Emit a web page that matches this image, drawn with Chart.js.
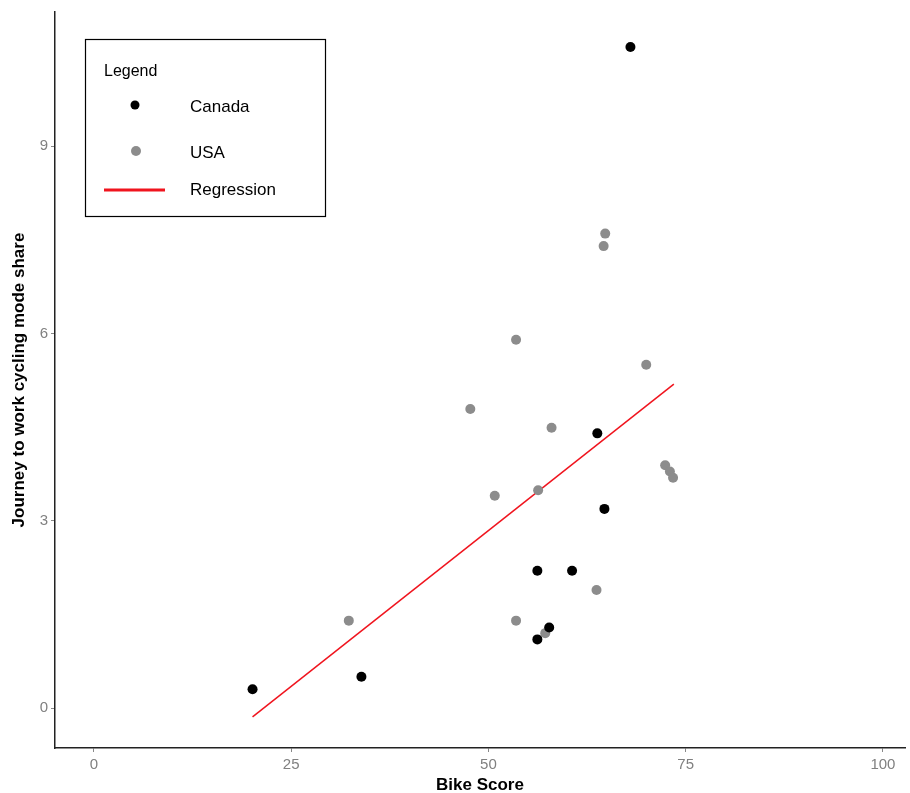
<!DOCTYPE html>
<html>
<head>
<meta charset="utf-8">
<script src="https://cdn.jsdelivr.net/npm/chart.js@4"></script>
<style>
html,body{margin:0;padding:0;background:#fff;}
#wrap{position:relative;width:910px;height:793px;}
</style>
</head>
<body>
<div id="wrap"><canvas id="c" width="910" height="793"></canvas></div>
<script>
// Data
const canadaX = [20.1, 33.9, 56.2, 57.7, 56.2, 60.6, 64.7, 63.8, 68.0];
const canadaY = [0.30, 0.50, 1.10, 1.29, 2.20, 2.20, 3.19, 4.40, 10.59];
const usaX = [32.3, 53.5, 57.2, 63.7, 56.3, 50.8, 47.7, 58.0, 53.5, 70.0, 64.6, 64.8, 72.4, 73.0, 73.4];
const usaY = [1.40, 1.40, 1.20, 1.89, 3.49, 3.40, 4.79, 4.49, 5.90, 5.50, 7.40, 7.60, 3.89, 3.79, 3.69];
const regX = [20.1, 73.5];
const regY = [-0.14, 5.19];
const xTicks = [0, 25, 50, 75, 100];
const yTicks = [0, 3, 6, 9];
const legendItems = ['Canada', 'USA', 'Regression'];

const toPts = (xs, ys) => xs.map((x, i) => ({x: x, y: ys[i]}));

const legendPlugin = {
  id: 'customLegend',
  afterDraw(chart) {
    const ctx = chart.ctx;
    ctx.save();
    ctx.strokeStyle = '#000';
    ctx.lineWidth = 1.2;
    ctx.fillStyle = '#fff';
    ctx.fillRect(85, 39, 240, 177);
    ctx.strokeRect(85.5, 39.5, 240, 177);
    ctx.fillStyle = '#000';
    ctx.font = '16px "Liberation Sans", Arial, sans-serif';
    ctx.textBaseline = 'middle';
    ctx.textAlign = 'left';
    ctx.fillText('Legend', 104, 72);
    // Canada
    ctx.beginPath(); ctx.arc(135, 105, 4.5, 0, Math.PI * 2); ctx.fillStyle = '#000'; ctx.fill();
    // USA
    ctx.beginPath(); ctx.arc(136, 151, 5, 0, Math.PI * 2); ctx.fillStyle = '#8c8c8c'; ctx.fill();
    // Regression
    ctx.strokeStyle = '#f0141e'; ctx.lineWidth = 3;
    ctx.beginPath(); ctx.moveTo(104, 190); ctx.lineTo(165, 190); ctx.stroke();
    ctx.fillStyle = '#000';
    ctx.font = '17px "Liberation Sans", Arial, sans-serif';
    ctx.fillText(legendItems[0], 190, 107);
    ctx.fillText(legendItems[1], 190, 153);
    ctx.fillText(legendItems[2], 190, 190);
    ctx.restore();
  }
};

new Chart(document.getElementById('c'), {
  type: 'scatter',
  data: {
    datasets: [
      {
        type: 'line',
        label: 'Regression',
        data: toPts(regX, regY),
        borderColor: '#f0141e',
        borderWidth: 1.5,
        pointRadius: 0,
        fill: false,
        order: 3
      },
      {
        label: 'USA',
        data: toPts(usaX, usaY),
        backgroundColor: '#8c8c8c',
        borderWidth: 0,
        pointRadius: 5,
        order: 2
      },
      {
        label: 'Canada',
        data: toPts(canadaX, canadaY),
        backgroundColor: '#000',
        borderWidth: 0,
        pointRadius: 5,
        order: 1
      }
    ]
  },
  options: {
    responsive: false,
    animation: false,
    events: [],
    layout: {padding: {top: 10, right: 2, left: 0, bottom: 0}},
    plugins: {legend: {display: false}, tooltip: {enabled: false}},
    scales: {
      x: {
        type: 'linear',
        min: -4.94,
        max: 102.8,
        afterBuildTicks: s => { s.ticks = xTicks.map(v => ({value: v})); },
        afterFit: s => { s.height = 45; },
        grid: {display: true, drawOnChartArea: false, drawTicks: true, tickLength: 4, color: '#888', lineWidth: 1},
        border: {display: true, color: '#222', width: 1.5},
        ticks: {color: '#808080', font: {size: 15, family: '"Liberation Sans", Arial, sans-serif'}, padding: 4, maxRotation: 0},
        title: {display: true, text: 'Bike Score', color: '#000', font: {size: 17, weight: 'bold', family: '"Liberation Sans", Arial, sans-serif'}, padding: {top: 0, bottom: -3}}
      },
      y: {
        type: 'linear',
        min: -0.64,
        max: 11.15,
        afterBuildTicks: s => { s.ticks = yTicks.map(v => ({value: v})); },
        afterFit: s => { s.width = 55; },
        grid: {display: true, drawOnChartArea: false, drawTicks: true, tickLength: 4, color: '#888', lineWidth: 1},
        border: {display: true, color: '#222', width: 1.5},
        ticks: {color: '#808080', font: {size: 15, family: '"Liberation Sans", Arial, sans-serif'}, padding: 3},
        title: {display: true, text: 'Journey to work cycling mode share', color: '#000', font: {size: 17, weight: 'bold', family: '"Liberation Sans", Arial, sans-serif'}, padding: {top: 9, bottom: 0}}
      }
    }
  },
  plugins: [legendPlugin]
});
</script>
</body>
</html>
